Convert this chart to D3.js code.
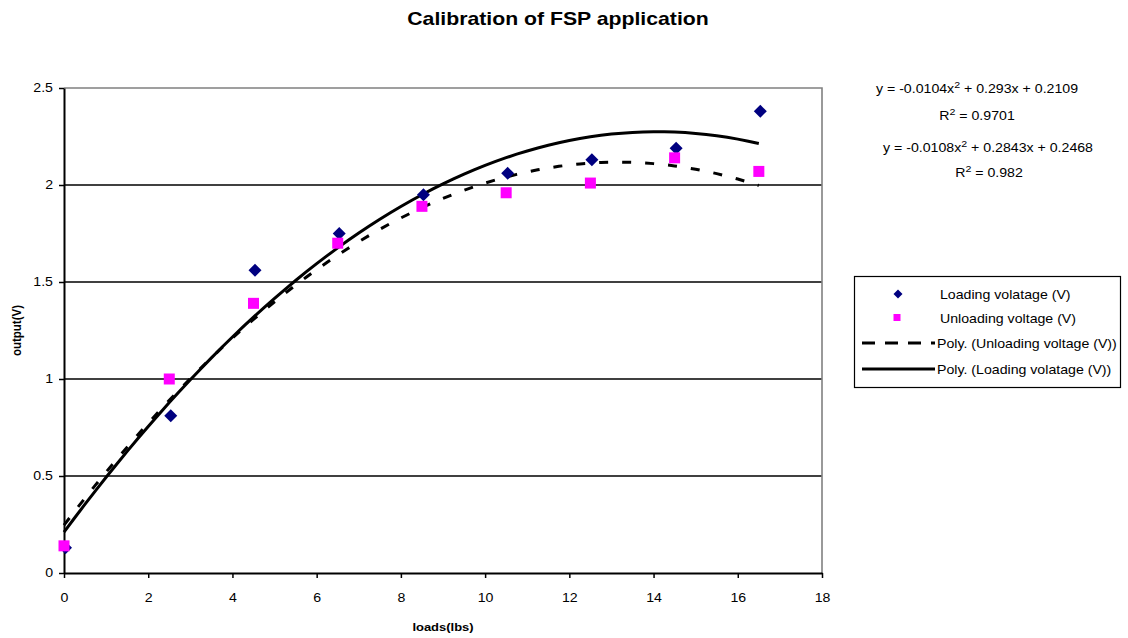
<!DOCTYPE html>
<html>
<head>
<meta charset="utf-8">
<script src="https://cdn.jsdelivr.net/npm/d3@7/dist/d3.min.js"></script>
<style>
  html, body { margin: 0; padding: 0; background: #fff; }
  svg { display: block; font-family: "Liberation Sans", Arial, sans-serif; }
</style>
</head>
<body>
<svg id="chart" width="1128" height="638"></svg>
<script>
// Calibration readings: load (lbs) against output (V)
const loads = [0, 2.5, 4.5, 6.5, 8.5, 10.5, 12.5, 14.5, 16.5];
const loadingVoltage = [0.13, 0.81, 1.56, 1.75, 1.95, 2.06, 2.13, 2.19, 2.38];
const unloadingVoltage = [0.14, 1.00, 1.39, 1.70, 1.89, 1.96, 2.01, 2.14, 2.07];

// Second-order polynomial trendlines [a, b, c] for y = a*x^2 + b*x + c
const loadingFit = [-0.0104, 0.293, 0.2109];
const loadingR2 = "0.9701";
const unloadingFit = [-0.0108, 0.2843, 0.2468];
const unloadingR2 = "0.982";

// Axis ticks
const xTicks = [0, 2, 4, 6, 8, 10, 12, 14, 16, 18];
const xTickLabels = ["0", "2", "4", "6", "8", "10", "12", "14", "16", "18"];
const yTicks = [0, 0.5, 1, 1.5, 2, 2.5];
const yTickLabels = ["0", "0.5", "1", "1.5", "2", "2.5"];

const svg = d3.select("#chart");
const plot = { left: 64, right: 822, top: 88, bottom: 573 };
const STRETCH = 1.18; // horizontal widening of the type face

const x = d3.scaleLinear().domain([0, 18]).range([plot.left, plot.right]);
const y = d3.scaleLinear().domain([0, 2.5]).range([plot.bottom, plot.top]);

// Places a text node at (px, py) and widens it horizontally
function wideText(parent, px, py) {
  return parent.append("text")
    .attr("transform", `translate(${px},${py}) scale(${STRETCH},1)`);
}

// Title
wideText(svg, 558, 25)
  .attr("text-anchor", "middle")
  .attr("font-size", 18).attr("font-weight", "bold")
  .text("Calibration of FSP application");

// Horizontal gridlines
svg.append("g")
  .selectAll("line")
  .data(yTicks.filter(v => v > 0 && v < 2.5))
  .join("line")
  .attr("x1", plot.left).attr("x2", plot.right)
  .attr("y1", d => y(d)).attr("y2", d => y(d))
  .attr("stroke", "#000").attr("stroke-width", 1.6);

// Plot-area frame on top and right
svg.append("path")
  .attr("d", `M${plot.left},${plot.top}H${plot.right}V${plot.bottom}`)
  .attr("fill", "none").attr("stroke", "#808080").attr("stroke-width", 1.6);

// Axes
const xAxis = svg.append("g")
  .attr("transform", `translate(0,${plot.bottom})`)
  .call(d3.axisBottom(x).tickValues(xTicks)
    .tickFormat((d, i) => xTickLabels[i]).tickSize(5).tickSizeOuter(0).tickPadding(15));
const yAxis = svg.append("g")
  .attr("transform", `translate(${plot.left},0)`)
  .call(d3.axisLeft(y).tickValues(yTicks)
    .tickFormat((d, i) => yTickLabels[i]).tickSize(5).tickSizeOuter(0).tickPadding(6));

[xAxis, yAxis].forEach(g => {
  g.select(".domain").attr("stroke", "#000").attr("stroke-width", 2);
  g.selectAll(".tick line").attr("stroke", "#000").attr("stroke-width", 1.5);
  g.selectAll(".tick text").each(function () {
    const t = d3.select(this);
    const tx = +t.attr("x") || 0, ty = +t.attr("y") || 0;
    t.attr("x", 0).attr("y", 0)
      .attr("transform", `translate(${tx},${ty}) scale(${STRETCH},1)`)
      .attr("font-family", "Liberation Sans, Arial, sans-serif")
      .attr("font-size", 12).attr("fill", "#000");
  });
});

// Axis titles
wideText(svg, (plot.left + plot.right) / 2, 631)
  .attr("text-anchor", "middle")
  .attr("font-size", 11).attr("font-weight", "bold")
  .text("loads(lbs)");
svg.append("text")
  .attr("transform", `translate(21,${(plot.top + plot.bottom) / 2}) scale(${STRETCH},1) rotate(-90)`)
  .attr("text-anchor", "middle")
  .attr("font-size", 11.5).attr("font-weight", "bold")
  .text("output(V)");

// Trendlines, evaluated across the loaded range
const poly = c => v => c[0] * v * v + c[1] * v + c[2];
const xs = d3.range(0, 16.5001, 0.25);
const line = d3.line().x(d => x(d[0])).y(d => y(d[1]));
const fitLoad = poly(loadingFit), fitUnload = poly(unloadingFit);

svg.append("path")
  .datum(xs.map(v => [v, fitUnload(v)]))
  .attr("d", line)
  .attr("fill", "none").attr("stroke", "#000")
  .attr("stroke-width", 3).attr("stroke-dasharray", "9,14");

svg.append("path")
  .datum(xs.map(v => [v, fitLoad(v)]))
  .attr("d", line)
  .attr("fill", "none").attr("stroke", "#000")
  .attr("stroke-width", 3);

// Markers
const diamond = s => `M0,${-s}L${s},0L0,${s}L${-s},0Z`;
svg.append("g")
  .selectAll("path")
  .data(loads.map((v, i) => [v, loadingVoltage[i]]))
  .join("path")
  .attr("transform", d => `translate(${x(d[0]) + 1.5},${y(d[1])})`)
  .attr("d", diamond(6.5))
  .attr("fill", "#000080");

svg.append("g")
  .selectAll("rect")
  .data(loads.map((v, i) => [v, unloadingVoltage[i]]))
  .join("rect")
  .attr("x", d => x(d[0]) - 5.5).attr("y", d => y(d[1]) - 5.5)
  .attr("width", 11).attr("height", 11)
  .attr("fill", "#ff00ff");

// Trendline equations
function equation(cx, cy, c) {
  const fmt = v => (v < 0 ? "-" : "") + Math.abs(v);
  const t = wideText(svg, cx, cy)
    .attr("text-anchor", "middle").attr("font-size", 12);
  t.append("tspan").text(`y = ${fmt(c[0])}x`);
  t.append("tspan").attr("dy", -5).attr("font-size", 9).text("2");
  t.append("tspan").attr("dy", 5).text(` + ${c[1]}x + ${c[2]}`);
}
function rSquared(cx, cy, r) {
  const t = wideText(svg, cx, cy)
    .attr("text-anchor", "middle").attr("font-size", 12);
  t.append("tspan").text("R");
  t.append("tspan").attr("dy", -5).attr("font-size", 9).text("2");
  t.append("tspan").attr("dy", 5).text(` = ${r}`);
}
equation(977, 93, loadingFit);
rSquared(977, 120, loadingR2);
equation(988, 152, unloadingFit);
rSquared(989, 177, unloadingR2);

// Legend
const lg = svg.append("g");
lg.append("rect")
  .attr("x", 854.5).attr("y", 276.5).attr("width", 266).attr("height", 111)
  .attr("fill", "#fff").attr("stroke", "#000").attr("stroke-width", 1.2);
const entries = [
  { label: "Loading volatage (V)", kind: "diamond", ty: 294, tx: 940 },
  { label: "Unloading voltage (V)", kind: "square", ty: 318, tx: 940 },
  { label: "Poly. (Unloading voltage (V))", kind: "dash", ty: 343, tx: 937 },
  { label: "Poly. (Loading volatage (V))", kind: "solid", ty: 369, tx: 937 }
];
entries.forEach(e => {
  if (e.kind === "diamond") {
    lg.append("path").attr("transform", `translate(898,${e.ty})`)
      .attr("d", diamond(4.5)).attr("fill", "#000080");
  } else if (e.kind === "square") {
    lg.append("rect").attr("x", 893.5).attr("y", e.ty - 4).attr("width", 7).attr("height", 7)
      .attr("fill", "#ff00ff");
  } else {
    lg.append("line").attr("x1", 862).attr("x2", 935).attr("y1", e.ty).attr("y2", e.ty)
      .attr("stroke", "#000").attr("stroke-width", 3)
      .attr("stroke-dasharray", e.kind === "dash" ? "13,10" : null);
  }
  wideText(lg, e.tx, e.ty + 4.5)
    .attr("font-size", 12).text(e.label);
});
</script>
</body>
</html>
